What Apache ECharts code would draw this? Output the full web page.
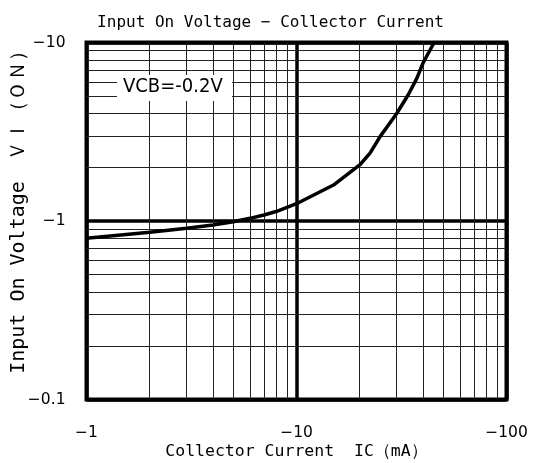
<!DOCTYPE html>
<html>
<head>
<meta charset="utf-8">
<script src="https://cdn.jsdelivr.net/npm/echarts@6/dist/echarts.min.js"></script>
<style>html,body{margin:0;padding:0;background:#fff}#c{width:533px;height:463px}</style>
</head>
<body>
<div id="c"></div>
<script>
// Collector current IC (mA) and input on voltage VI(ON) (V)
const icValues = [-1, -2, -3, -4, -5, -6, -7, -8, -10, -15, -20, -22.4, -25, -30, -34, -37.4, -40, -45.2];
const viValues = [-0.80, -0.865, -0.91, -0.95, -0.99, -1.035, -1.08, -1.13, -1.25, -1.59, -2.06, -2.4, -2.97, -4.0, -5.08, -6.3, -7.65, -10];
// axis ranges (magnitudes) and minor grid values
const xRange = [1, 100];
const yRange = [0.1, 10];
const xMinor = [2, 3, 4, 5, 6, 7, 8, 9, 20, 30, 40, 50, 60, 70, 80, 90];
const yMinor = [0.2, 0.3, 0.4, 0.5, 0.6, 0.7, 0.8, 0.9, 2, 3, 4, 5, 6, 7, 8, 9];
const conditionLabel = 'VCB=-0.2V';

const chart = echarts.init(document.getElementById('c'));
const fmt = v => '\u2212' + String(+Number(v).toPrecision(3));
const minorLines = xMinor.map(v => ({ xAxis: v })).concat(yMinor.map(v => ({ yAxis: v })));

chart.setOption({
  animation: false,
  backgroundColor: '#fff',
  title: {
    text: 'Input On Voltage \u2212 Collector Current',
    left: 265.5, top: 10, textAlign: 'center',
    textStyle: { fontFamily: 'DejaVu Sans Mono', fontSize: 16, fontWeight: 'normal', color: '#000' }
  },
  grid: { left: 86.5, right: 26.5, top: 42.5, bottom: 63.5, show: true, borderColor: '#000', borderWidth: 4, backgroundColor: 'transparent', containLabel: false, outerBoundsMode: 'none' },
  xAxis: {
    type: 'log', logBase: 10, min: xRange[0], max: xRange[1],
    name: 'Collector Current  IC\uff08mA\uff09', nameLocation: 'middle', nameGap: 44, nameMoveOverlap: false,
    nameTextStyle: { fontFamily: 'DejaVu Sans Mono', fontSize: 16.5, color: '#000' },
    axisLine: { show: false }, axisTick: { show: false },
    axisLabel: { formatter: fmt, fontFamily: 'DejaVu Sans', fontSize: 15.5, color: '#000', margin: 25 },
    splitLine: { show: true, lineStyle: { color: '#000', width: 3.5 } },
    minorTick: { show: false }, minorSplitLine: { show: false }
  },
  yAxis: {
    type: 'log', logBase: 10, min: yRange[0], max: yRange[1],
    name: 'Input On Voltage\u3000\uff36\uff29\uff08\uff2f\uff2e\uff09', nameLocation: 'middle', nameGap: 58, nameMoveOverlap: false,
    nameTextStyle: { fontFamily: 'DejaVu Sans Mono', fontSize: 20, color: '#000', padding: [0, 0, 0, 27] },
    axisLine: { show: false }, axisTick: { show: false },
    axisLabel: { formatter: fmt, fontFamily: 'DejaVu Sans', fontSize: 15.5, color: '#000', margin: 21 },
    splitLine: { show: true, lineStyle: { color: '#000', width: 3.5 } },
    minorTick: { show: false }, minorSplitLine: { show: false }
  },
  series: [
    {
      type: 'line', data: [], silent: true,
      markLine: {
        silent: true, symbol: ['none', 'none'], label: { show: false },
        lineStyle: { color: '#222', width: 1, type: 'solid' },
        emphasis: { disabled: true },
        data: minorLines
      }
    },
    {
      type: 'line', z: 5,
      data: icValues.map((x, i) => [Math.abs(x), Math.abs(viValues[i])]),
      showSymbol: false, smooth: false,
      lineStyle: { color: '#000', width: 3.5 }
    }
  ],
  graphic: [
    {
      type: 'rect', left: 117, top: 75, z: 10,
      shape: { width: 115, height: 26 },
      style: { fill: '#fff' }
    },
    {
      type: 'text', left: 123, top: 77, z: 11,
      style: { text: conditionLabel, fontFamily: 'DejaVu Sans Condensed', fontSize: 20, fill: '#000' }
    }
  ]
});
</script>
</body>
</html>
